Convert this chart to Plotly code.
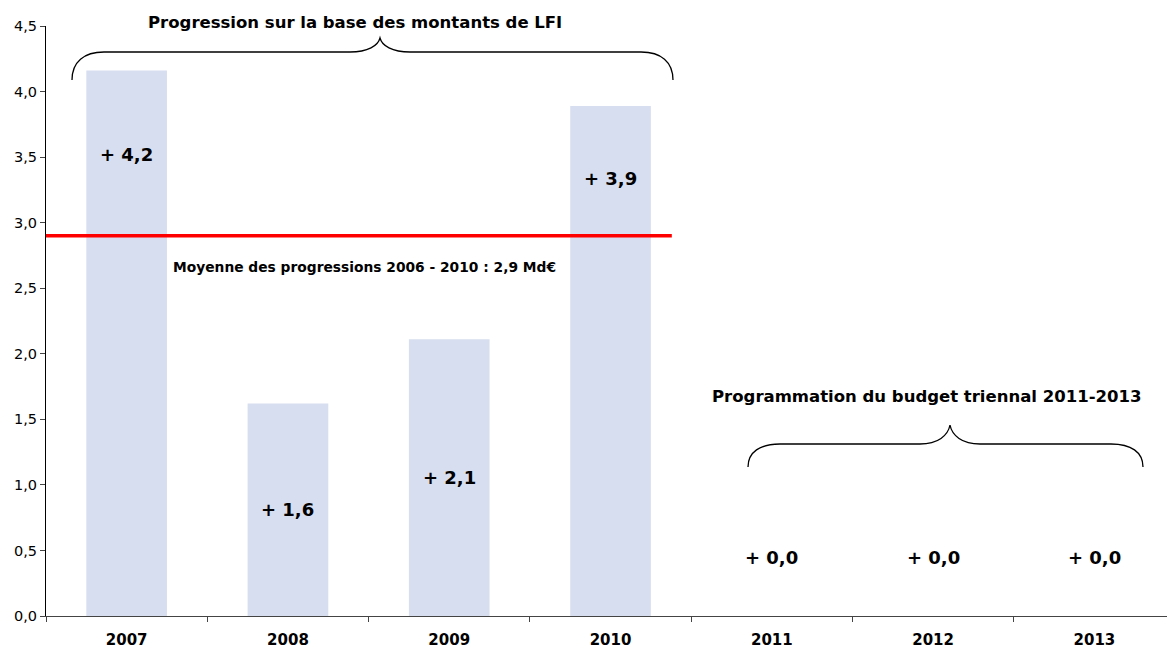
import plotly.graph_objects as go

years = ["2007", "2008", "2009", "2010", "2011", "2012", "2013"]
values = [4.16, 1.62, 2.11, 3.89, 0, 0, 0]
labels = ["+ 4,2", "+ 1,6", "+ 2,1", "+ 3,9", "+ 0,0", "+ 0,0", "+ 0,0"]
label_y = [3.52, 0.81, 1.06, 3.34, 0.45, 0.45, 0.45]
mean_value = 2.9
mean_label = "Moyenne des progressions 2006 - 2010 : 2,9 Md€"
title_lfi = "Progression sur la base des montants de LFI"
title_prog = "Programmation du budget triennal 2011-2013"

FONT = "DejaVu Sans, Arial, sans-serif"
W, H = 1167, 653
L, R, T, B = 46, 0, 26, 37


def px(x):
    return (x - L) / (W - L - R)


def py(y):
    return (H - B - y) / (H - T - B)


fig = go.Figure()
fig.add_trace(go.Bar(x=years, y=values, marker=dict(color="#D7DEEF", line=dict(width=0)),
                     hoverinfo="skip", showlegend=False))

for i, (lab, ly) in enumerate(zip(labels, label_y)):
    fig.add_annotation(x=i, y=ly, text="<b>%s</b>" % lab, showarrow=False,
                       font=dict(family=FONT, size=18, color="black"))

fig.add_shape(type="line", xref="x", yref="y", x0=-0.5, x1=3.38, y0=mean_value, y1=mean_value,
              line=dict(color="#FF0000", width=3.5))
fig.add_annotation(xref="paper", yref="paper", x=px(364), y=py(267), xanchor="center", yanchor="middle",
                   text="<b>%s</b>" % mean_label, showarrow=False,
                   font=dict(family=FONT, size=13.8, color="black"))

fig.add_annotation(xref="paper", yref="paper", x=px(355), y=py(22), xanchor="center", yanchor="middle",
                   text="<b>%s</b>" % title_lfi,
                   showarrow=False, font=dict(family=FONT, size=16.5, color="black"))
fig.add_annotation(xref="paper", yref="paper", x=px(926), y=py(396), xanchor="center", yanchor="middle",
                   text="<b>%s</b>" % title_prog,
                   showarrow=False, font=dict(family=FONT, size=16.5, color="black"))


def brace(x0, x1, xt, ytip, yarm, yend):
    pts = [
        ("M", [(x0, yend)]),
        ("C", [(x0, yarm + (yend - yarm) * 0.35), (x0 + 12, yarm), (x0 + 32, yarm)]),
        ("L", [(xt - 30, yarm)]),
        ("C", [(xt - 12, yarm), (xt - 2, yarm - (yarm - ytip) * 0.45), (xt, ytip)]),
        ("C", [(xt + 2, yarm - (yarm - ytip) * 0.45), (xt + 12, yarm), (xt + 30, yarm)]),
        ("L", [(x1 - 32, yarm)]),
        ("C", [(x1 - 12, yarm), (x1, yarm + (yend - yarm) * 0.35), (x1, yend)]),
    ]
    s = ""
    for cmd, ps in pts:
        s += cmd + " ".join("%.5f,%.5f" % (px(a), py(b)) for a, b in ps) + " "
    return s.strip()


for args in ((72, 673, 380, 38, 52, 80), (748, 1143, 950, 425, 444, 467)):
    fig.add_shape(type="path", xref="paper", yref="paper", path=brace(*args),
                  line=dict(color="black", width=1.3))

fig.update_layout(
    width=W, height=H,
    margin=dict(l=L, r=R, t=T, b=B),
    paper_bgcolor="white", plot_bgcolor="white",
    separators=", ",
    bargap=0.5,
    xaxis=dict(type="category", tickson="boundaries", ticks="outside", ticklen=5,
               tickcolor="#444", showline=True, linecolor="#444", linewidth=1,
               showgrid=False, tickfont=dict(family=FONT, size=15, color="black"),
               ticklabelstandoff=10,
               tickprefix="<b>", ticksuffix="</b>", range=[-0.5, 6.45], automargin=False),
    yaxis=dict(range=[0, 4.5], dtick=0.5, tickformat=".1f", ticks="outside", ticklen=5,
               showline=True, linecolor="black", linewidth=1, showgrid=False, zeroline=False,
               tickfont=dict(family=FONT, size=14.5, color="black"), automargin=False),
    font=dict(family=FONT),
)

fig.write_html("out.html", config={"displayModeBar": False},
               post_script="document.body.style.margin='0px';document.body.style.overflow='hidden';")
